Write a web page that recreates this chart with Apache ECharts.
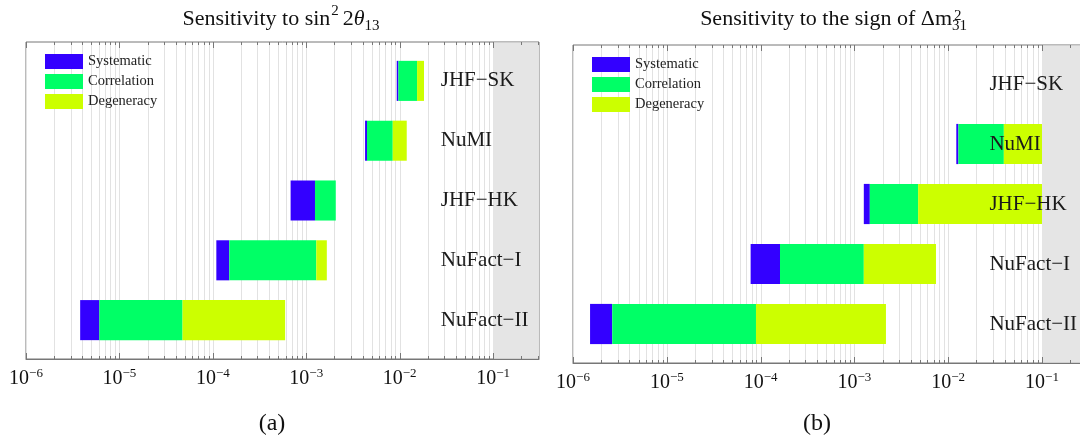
<!DOCTYPE html>
<html>
<head>
<meta charset="utf-8">
<title>Sensitivity to sin²2θ13 and to the sign of Δm²31</title>
<script src="https://cdn.jsdelivr.net/npm/echarts@6/dist/echarts.min.js"></script>
<style>
  html, body { margin: 0; padding: 0; background: #fff; }
  #chart { width: 1080px; height: 438px; }
</style>
</head>
<body>
<div id="chart"></div>
<script>
const experiments = ['JHF−SK', 'NuMI', 'JHF−HK', 'NuFact−I', 'NuFact−II'];
const parts = ['Systematic', 'Correlation', 'Degeneracy'];
const partColors = ['#3300ff', '#00ff66', '#ccff00'];

// (a) sin^2 2θ13 : left edge of bar, then the ends of systematic / correlation / degeneracy
const thetaStat = [0.0093, 0.00426, 6.8e-4, 1.09e-4, 3.8e-6];
const thetaSyst = [0.0097, 0.00447, 1.24e-3, 1.50e-4, 6.1e-6];
const thetaCorr = [0.01535, 0.00843, 2.07e-3, 1.28e-3, 4.74e-5];
const thetaDegn = [0.0182, 0.0119, 2.07e-3, 1.66e-3, 5.94e-4];

// (b) sign of Δm^2_31 (no bar for JHF−SK)
const signStat = [null, 0.0122, 1.26e-3, 7.83e-5, 1.52e-6];
const signSyst = [null, 0.01285, 1.46e-3, 1.61e-4, 2.62e-6];
const signCorr = [null, 0.0392, 4.78e-3, 1.26e-3, 8.93e-5];
const signDegn = [null, 0.1, 0.1, 7.41e-3, 2.17e-3];

// axis ticks (powers of ten) and where the grey band starts
const decades = [-6, -5, -4, -3, -2, -1];
const bandStart = 0.1;

const SERIF = '"Liberation Serif", "Times New Roman", serif';
const LABEL_X = 0.0275;   // experiment names sit at this x
const BAR_H = 0.67;       // bar thickness in row units
const maxA = 0.31;
const maxB = 0.267;

function gridValues(max) {
  const out = [];
  decades.forEach(d => {
    for (let m = 1; m <= 9; m++) {
      const v = m * Math.pow(10, d);
      if (v < max) out.push([v, 0, m === 1 ? 1 : 0]);
    }
  });
  return out;
}

function decadeLabel(v) {
  const e = Math.log10(v);
  if (Math.abs(e - Math.round(e)) > 1e-6) return '';
  return '{b|10}{s|−' + Math.abs(Math.round(e)) + '}';
}

function renderBar(params, api) {
  const a = api.coord([api.value(0), api.value(2)]);
  const b = api.coord([api.value(1), api.value(2)]);
  const h = api.size([0, BAR_H])[1];
  return {
    type: 'rect',
    shape: { x: a[0], y: a[1] - h / 2, width: b[0] - a[0], height: h },
    style: { fill: api.visual('color') }
  };
}

function renderGridLine(params, api) {
  const cs = params.coordSys;
  const x = Math.round(api.coord([api.value(0), 0])[0]) + 0.5;
  return {
    type: 'line',
    shape: { x1: x, y1: cs.y, x2: x, y2: cs.y + cs.height },
    style: { stroke: '#e2e2e2', lineWidth: 1 }
  };
}

function renderTick(params, api) {
  const cs = params.coordSys;
  const x = Math.round(api.coord([api.value(0), 0])[0]) + 0.5;
  const len = api.value(2) ? 6 : 3;
  const bottom = cs.y + cs.height;
  return {
    type: 'group',
    children: [
      { type: 'line', shape: { x1: x, y1: bottom, x2: x, y2: bottom - len }, style: { stroke: '#777', lineWidth: 1 } },
      { type: 'line', shape: { x1: x, y1: cs.y, x2: x, y2: cs.y + len }, style: { stroke: '#777', lineWidth: 1 } }
    ]
  };
}

function renderBand(params, api) {
  const cs = params.coordSys;
  const x = api.coord([api.value(0), 0])[0];
  return {
    type: 'rect',
    shape: { x: x, y: cs.y + 0.5, width: cs.x + cs.width - x - 0.5, height: cs.height - 1 },
    style: { fill: '#e5e5e5' }
  };
}

function renderName(params, api) {
  const p = api.coord([api.value(0), api.value(1)]);
  return {
    type: 'text',
    x: p[0],
    y: p[1],
    style: {
      text: experiments[params.dataIndex],
      fill: '#1a1a1a',
      fontSize: 21,
      fontFamily: SERIF,
      align: 'left',
      verticalAlign: 'middle'
    }
  };
}

function panelSeries(idx, edges, max) {
  const list = [
    { type: 'custom', xAxisIndex: idx, yAxisIndex: idx, z: 1, silent: true,
      renderItem: renderGridLine, data: gridValues(max) },
    { type: 'custom', xAxisIndex: idx, yAxisIndex: idx, z: 2, silent: true,
      renderItem: renderBand, data: [[bandStart, 0]] },
    { type: 'custom', xAxisIndex: idx, yAxisIndex: idx, z: 5, silent: true,
      renderItem: renderTick, data: gridValues(max) }
  ];
  parts.forEach((name, k) => {
    list.push({
      type: 'custom',
      name: name,
      xAxisIndex: idx,
      yAxisIndex: idx,
      z: 3,
      itemStyle: { color: partColors[k] },
      encode: { x: [0, 1], y: 2 },
      renderItem: renderBar,
      data: experiments
        .map((e, i) => [edges[k][i], edges[k + 1][i], i])
        .filter(d => d[0] != null && d[1] > d[0])
    });
  });
  list.push({
    type: 'custom', xAxisIndex: idx, yAxisIndex: idx, z: 6, silent: true,
    renderItem: renderName,
    data: experiments.map((e, i) => [LABEL_X, i])
  });
  return list;
}

function xAxis(idx, max) {
  return {
    type: 'log',
    logBase: 10,
    gridIndex: idx,
    min: 1e-6,
    max: max,
    splitNumber: 6,
    axisLine: { show: true, onZero: false, lineStyle: { color: '#777', width: 1 } },
    axisTick: { show: false },
    splitLine: { show: false },
    minorTick: { show: false },
    axisLabel: {
      margin: 8,
      showMaxLabel: false,
      formatter: decadeLabel,
      rich: {
        b: { fontSize: 20, fontFamily: SERIF, color: '#111', lineHeight: 22, verticalAlign: 'bottom' },
        s: { fontSize: 13, fontFamily: SERIF, color: '#111', lineHeight: 13, verticalAlign: 'top' }
      }
    }
  };
}

function yAxis(idx) {
  return { type: 'value', gridIndex: idx, inverse: true, min: -0.65, max: 4.65, show: false };
}

function legend(left, top) {
  return {
    data: parts,
    orient: 'vertical',
    left: left,
    top: top,
    padding: 0,
    itemWidth: 38,
    itemHeight: 15,
    itemGap: 5,
    icon: 'rect',
    selectedMode: false,
    textStyle: { fontFamily: SERIF, fontSize: 14.5, color: '#222', padding: [0, 0, 0, 0] }
  };
}

const base = { fontFamily: SERIF, color: '#111', fontWeight: 'normal' };
const titleRich = {
  t: Object.assign({ fontSize: 22, lineHeight: 30 }, base),
  i: Object.assign({ fontSize: 22, lineHeight: 30, fontStyle: 'italic' }, base),
  p: Object.assign({ fontSize: 15, lineHeight: 15, verticalAlign: 'top', padding: [0, 4, 0, 1] }, base),
  q: Object.assign({ fontSize: 15, lineHeight: 15, verticalAlign: 'bottom' }, base)
};

const chart = echarts.init(document.getElementById('chart'), null, { renderer: 'canvas' });

chart.setOption({
  animation: false,
  backgroundColor: '#fff',
  title: [
    { text: '{t|Sensitivity to sin}{p|2}{t|2}{i|θ}{q|13}', left: 281, top: 4, textAlign: 'center',
      padding: 0, textStyle: Object.assign({ rich: titleRich }, base) },
    { text: '{t|Sensitivity to the sign of Δm}{q|31}', left: 967, top: 4, textAlign: 'right',
      padding: 0, textStyle: Object.assign({ rich: titleRich }, base) },
    { text: '2', left: 954, top: 9, padding: 0,
      textStyle: Object.assign({ fontSize: 15 }, base) },
    { text: '(a)', left: 272, top: 412, textAlign: 'center', padding: 0,
      textStyle: Object.assign({ fontSize: 24 }, base) },
    { text: '(b)', left: 817, top: 412, textAlign: 'center', padding: 0,
      textStyle: Object.assign({ fontSize: 24 }, base) }
  ],
  legend: [legend(45, 54), legend(592, 57)],
  grid: [
    { left: 26, top: 42, width: 513, height: 317, show: true, borderColor: '#777', borderWidth: 1,
      backgroundColor: '#fff', containLabel: false, outerBoundsMode: 'none' },
    { left: 573, top: 45, width: 509, height: 318, show: true, borderColor: '#777', borderWidth: 1,
      backgroundColor: '#fff', containLabel: false, outerBoundsMode: 'none' }
  ],
  xAxis: [xAxis(0, maxA), xAxis(1, maxB)],
  yAxis: [yAxis(0), yAxis(1)],
  series: [].concat(
    panelSeries(0, [thetaStat, thetaSyst, thetaCorr, thetaDegn], maxA),
    panelSeries(1, [signStat, signSyst, signCorr, signDegn], maxB)
  )
});
</script>
</body>
</html>
